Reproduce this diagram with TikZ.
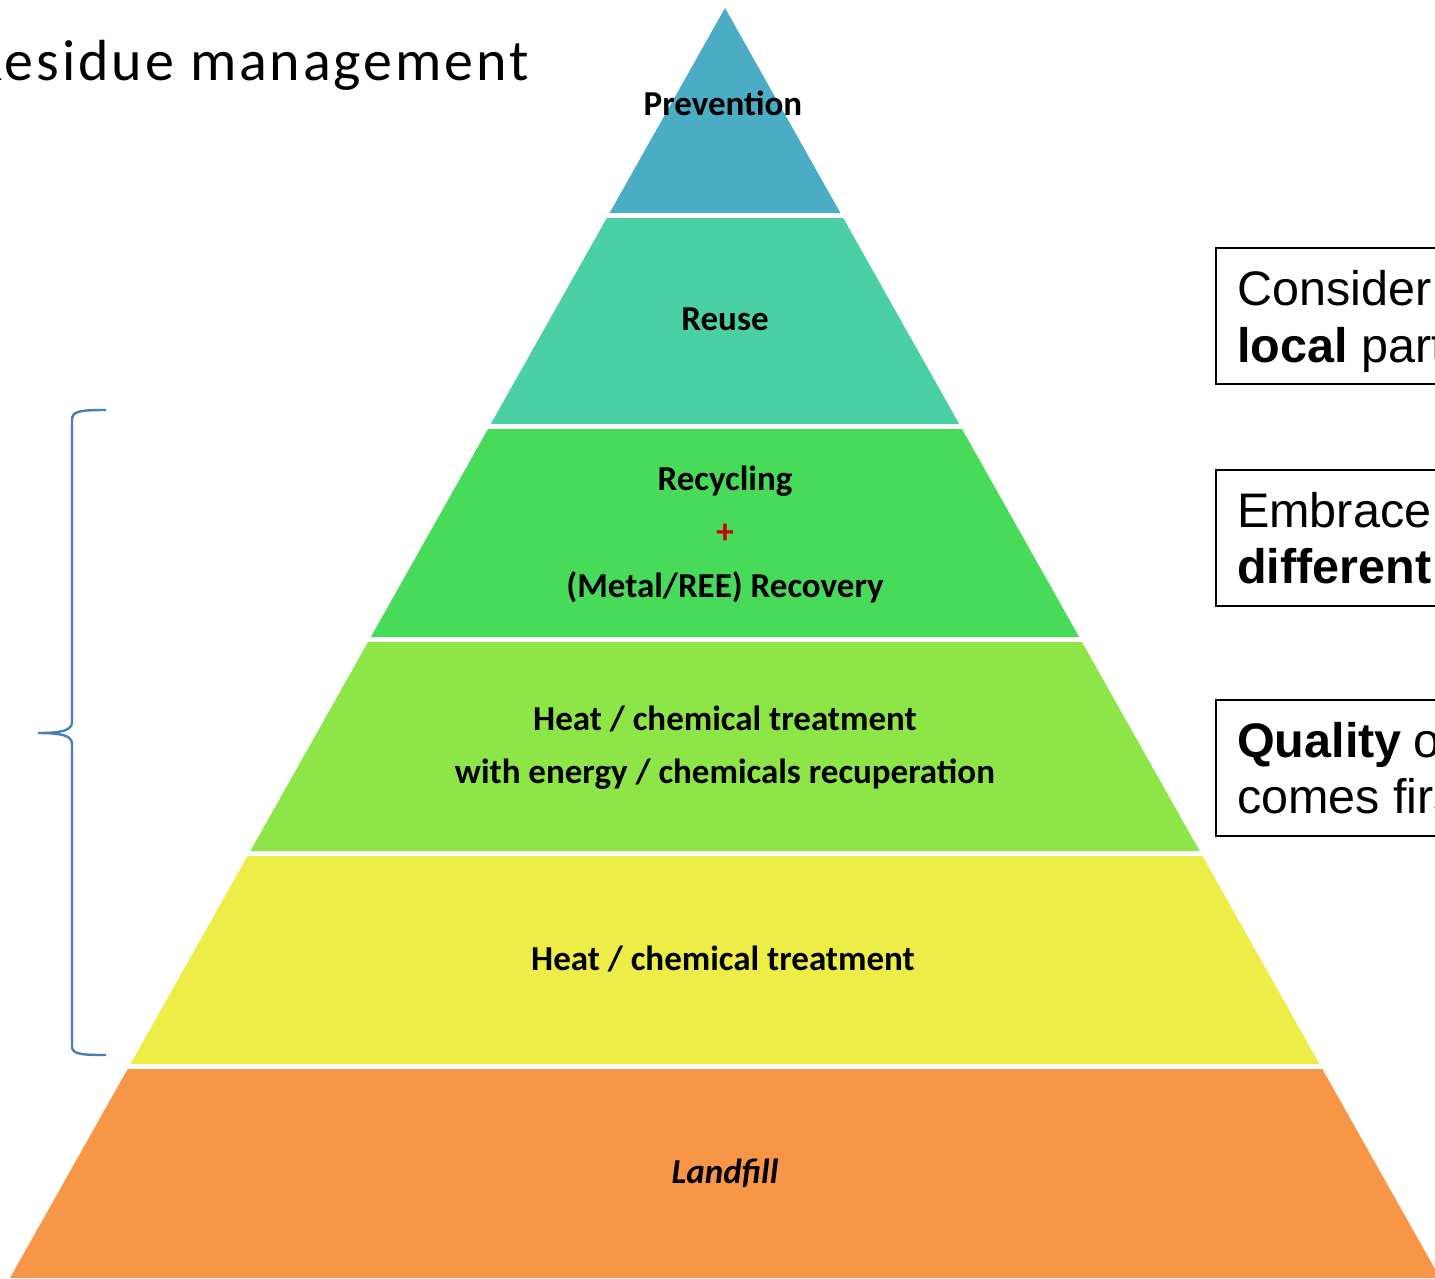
\documentclass[tikz,border=0pt]{standalone}
\usepackage{fontspec}
\setmainfont{Carlito}
\newfontfamily\arialf{Liberation Sans}
\newfontfamily\titlef[LetterSpace=5]{Carlito}
\begin{document}
\begin{tikzpicture}[x=1pt,y=-1pt,
  declare function={xl(\t)=725-0.563*(\t-8); xr(\t)=725+0.563*(\t-8);},
  lbl/.style={font=\fontsize{35}{40}\selectfont\bfseries, text=black, inner sep=0pt, anchor=base},
  sidebox/.style={draw=black, line width=1.6pt},
  sidetxt/.style={font=\arialf\fontsize{48.5}{56}\selectfont, anchor=base west, inner sep=0pt},
  bracecol/.style={draw={rgb,255:red,74;green,126;blue,187}, line width=2.4pt}]
\definecolor{cPrev}{RGB}{75,172,198}
\definecolor{cReuse}{RGB}{75,208,165}
\definecolor{cRecy}{RGB}{72,219,90}
\definecolor{cHeatE}{RGB}{142,229,72}
\definecolor{cHeat}{RGB}{237,237,72}
\definecolor{cLand}{RGB}{247,150,70}
\useasboundingbox (0,0) rectangle (1435,1278);
\clip (0,0) rectangle (1435,1278);
\fill[white] (0,0) rectangle (1435,1278);
% pyramid layers
\fill[cPrev] (725,8) -- ({xr(213)},213) -- ({xl(213)},213) -- cycle;
\fill[cReuse] ({xl(218)},218) -- ({xr(218)},218) -- ({xr(424)},424) -- ({xl(424)},424) -- cycle;
\fill[cRecy] ({xl(429)},429) -- ({xr(429)},429) -- ({xr(637)},637) -- ({xl(637)},637) -- cycle;
\fill[cHeatE] ({xl(642)},642) -- ({xr(642)},642) -- ({xr(851)},851) -- ({xl(851)},851) -- cycle;
\fill[cHeat] ({xl(856)},856) -- ({xr(856)},856) -- ({xr(1064)},1064) -- ({xl(1064)},1064) -- cycle;
\fill[cLand] ({xl(1069)},1069) -- ({xr(1069)},1069) -- ({xr(1278)},1278) -- ({xl(1278)},1278) -- cycle;
% layer labels
\node[lbl] (prev) at (723,115) {Prevention};
\node[lbl] (reuse) at (725,330) {Reuse};
\node[lbl] (recy) at (725,490) {Recycling};
\node[lbl, text={rgb,255:red,200;green,0;blue,0}] (plus) at (725,543) {+};
\node[lbl] (rec) at (725,597) {(Metal/REE) Recovery};
\node[lbl] (heat1) at (725,730) {Heat / chemical treatment};
\node[lbl] (heat2) at (725,783) {with energy / chemicals recuperation};
\node[lbl] (heat3) at (723,970) {Heat / chemical treatment};
\node[lbl, font=\fontsize{35}{40}\selectfont\bfseries\itshape] (land) at (725,1183) {Landfill};
% title
\node[font=\titlef\fontsize{58}{66}\selectfont, anchor=base east, inner sep=0pt] (title) at (529,80) {Residue management};
% right boxes
\draw[sidebox] (1216,248) rectangle (1445,384);
\node[sidetxt] (b1a) at (1237,305) {Consider};
\node[sidetxt] (b1b) at (1237,362) {\textbf{local} part};
\draw[sidebox] (1216,470) rectangle (1445,606);
\node[sidetxt] (b2a) at (1237,527) {Embrace};
\node[sidetxt] (b2b) at (1237,583) {\textbf{different}};
\draw[sidebox] (1216,700) rectangle (1445,836);
\node[sidetxt] (b3a) at (1237,757) {\textbf{Quality}\kern-2pt\ of};
\node[sidetxt] (b3b) at (1237,813) {comes first};
% brace
\draw[bracecol] (106,410) .. controls (80,410) and (72,411) .. (72,420)
  -- (72,722) .. controls (72,731) and (60,733) .. (38,733)
  .. controls (60,733) and (72,735) .. (72,744)
  -- (72,1046) .. controls (72,1054) and (80,1055) .. (106,1055);
\end{tikzpicture}
\end{document}
